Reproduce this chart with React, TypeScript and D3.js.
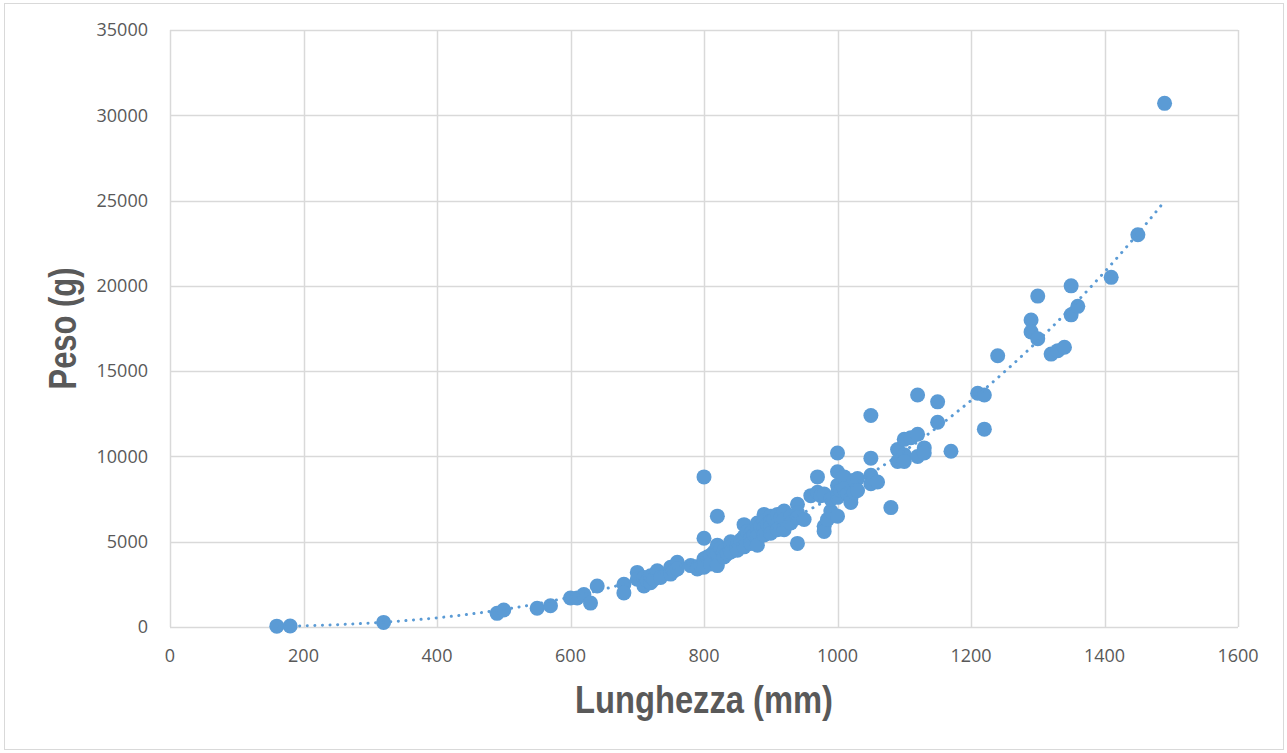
import React from "react";
import * as d3 from "d3";

// Lunghezza (mm) / Peso (g) — one entry per fish
const lunghezza = [
  160, 180, 320, 490, 500, 550, 570, 600, 610, 620, 630, 640, 680, 680,
  700, 700, 710, 710, 715, 720, 720, 725, 730, 735, 750, 750, 755, 760, 760,
  780, 790, 790, 795, 800, 800, 800, 800, 805, 810, 810, 815,
  820, 820, 820, 820, 825, 830, 830, 835, 840, 840, 840, 845, 850, 850, 855,
  860, 860, 860, 860, 865, 870, 870, 870, 875, 880, 880, 880, 880, 885,
  890, 890, 890, 890, 895, 900, 900, 900, 900, 905, 910, 910, 910, 915,
  920, 920, 920, 930, 930, 940, 940, 940, 940, 950, 960, 970, 970, 975,
  980, 980, 980, 985, 990, 990, 1000, 1000, 1000, 1000, 1000, 1000, 1005,
  1010, 1010, 1015, 1020, 1020, 1025, 1025, 1030, 1030,
  1050, 1050, 1050, 1050, 1060, 1080, 1090, 1090, 1100, 1100, 1100, 1110,
  1120, 1120, 1120, 1130, 1130, 1150, 1150, 1170, 1210, 1220, 1220, 1240,
  1290, 1290, 1300, 1300, 1320, 1330, 1340, 1350, 1350, 1360, 1410, 1450, 1490,
];
const peso = [
  50, 55, 270, 800, 1000, 1100, 1250, 1700, 1700, 1900, 1400, 2400, 2500, 2000,
  3200, 2800, 2900, 2400, 2700, 2600, 3000, 2800, 3300, 2900, 3500, 3100, 3300, 3800, 3400,
  3600, 3500, 3400, 3600, 4000, 3500, 8800, 5200, 4100, 4200, 3700, 4400,
  6500, 4800, 4300, 3600, 4600, 4500, 4100, 4300, 5000, 4700, 4400, 4900, 4800, 4500, 5100,
  6000, 5300, 5000, 4700, 5600, 5500, 5200, 4900, 5400, 6100, 5700, 5300, 4800, 5900,
  6600, 6200, 5800, 5400, 6000, 6500, 6200, 5900, 5500, 6300, 6600, 6000, 5700, 6400,
  6800, 6300, 5700, 6500, 6100, 7200, 6700, 6400, 4900, 6300, 7700, 8800, 7900, 7700,
  7800, 5900, 5600, 6300, 6800, 7500, 10200, 9100, 8300, 7900, 7600, 6500, 8000,
  8800, 8100, 7800, 7500, 7300, 7900, 8600, 8700, 8000,
  12400, 9900, 8900, 8400, 8500, 7000, 10400, 9700, 11000, 10100, 9700, 11100,
  13600, 11300, 10000, 10500, 10200, 13200, 12000, 10300, 13700, 13600, 11600, 15900,
  18000, 17300, 19400, 16900, 16000, 16200, 16400, 20000, 18300, 18800, 20500, 23000, 30700,
];

const xTicks = [0, 200, 400, 600, 800, 1000, 1200, 1400, 1600];
const yTicks = [0, 5000, 10000, 15000, 20000, 25000, 30000, 35000];

const W = 1287;
const H = 753;
const margin = { top: 30, right: 49, bottom: 126, left: 170 };
const BLUE = "#5B9BD5";
const GRID = "#D9D9D9";
const TEXT = "#595959";

export default function App() {
  const x = d3.scaleLinear().domain([0, 1600]).range([margin.left, W - margin.right]);
  const y = d3.scaleLinear().domain([0, 35000]).range([H - margin.bottom, margin.top]);

  const points = lunghezza.map((l, i) => ({ l, p: peso[i] }));

  // power trendline (least squares on logs, like Excel)
  const lx = points.map(d => Math.log(d.l));
  const ly = points.map(d => Math.log(d.p));
  const mx = d3.mean(lx)!;
  const my = d3.mean(ly)!;
  const b = d3.sum(lx, (v, i) => (v - mx) * (ly[i] - my)) / d3.sum(lx, v => (v - mx) * (v - mx));
  const a = Math.exp(my - b * mx);
  const [xmin, xmax] = d3.extent(lunghezza) as [number, number];
  const trend = d3.range(0, 201).map(k => {
    const l = xmin + (xmax - xmin) * k / 200;
    return [l, a * Math.pow(l, b)] as [number, number];
  });
  const trendPath = d3.line<[number, number]>()
    .x(d => x(d[0]))
    .y(d => y(d[1]))(trend);

  const x0 = x(0), x1 = x(1600), y0 = y(0), y1 = y(35000);

  return (
    <div style={{ position: "fixed", left: 0, top: 0 }}>
      <svg width={W} height={H} style={{ display: "block", background: "#fff" }}>
        <rect x={4.5} y={3.5} width={W - 8} height={H - 7} fill="#fff" stroke={GRID} strokeWidth={1} />

        {/* gridlines */}
        {yTicks.map(t => (
          <line key={"gy" + t} x1={x0} x2={x1} y1={Math.round(y(t)) + 0.5} y2={Math.round(y(t)) + 0.5}
            stroke={GRID} strokeWidth={1.5} />
        ))}
        {xTicks.map(t => (
          <line key={"gx" + t} x1={Math.round(x(t)) + 0.5} x2={Math.round(x(t)) + 0.5} y1={y1} y2={y0}
            stroke={GRID} strokeWidth={1.5} />
        ))}

        {/* tick labels */}
        <g fontFamily="'Open Sans', 'Liberation Sans', sans-serif" fontSize={18} fill={TEXT}>
          {yTicks.map(t => (
            <text key={"ly" + t} x={148} y={y(t)} dy="0.35em" textAnchor="end">{t}</text>
          ))}
          {xTicks.map(t => (
            <text key={"lx" + t} x={x(t)} y={y0 + 29} dy="0.35em" textAnchor="middle">{t}</text>
          ))}
        </g>

        {/* points */}
        {points.map((d, i) => (
          <circle key={i} cx={x(d.l)} cy={y(d.p)} r={7.5} fill={BLUE} />
        ))}

        {/* trendline */}
        <path d={trendPath ?? ""} fill="none" stroke={BLUE} strokeWidth={3}
          strokeLinecap="round" strokeDasharray="0.1 7.5" />

        {/* axis titles */}
        <text x={(x0 + x1) / 2} y={713} textAnchor="middle" fill={TEXT}
          fontFamily="'Liberation Sans', Arial, sans-serif" fontWeight="bold" fontSize={38}
          textLength={258} lengthAdjust="spacingAndGlyphs">Lunghezza (mm)</text>
        <text transform={`translate(76, ${(y0 + y1) / 2}) rotate(-90)`} textAnchor="middle" fill={TEXT}
          fontFamily="'Liberation Sans', Arial, sans-serif" fontWeight="bold" fontSize={38}
          textLength={122} lengthAdjust="spacingAndGlyphs">Peso (g)</text>
      </svg>
    </div>
  );
}
